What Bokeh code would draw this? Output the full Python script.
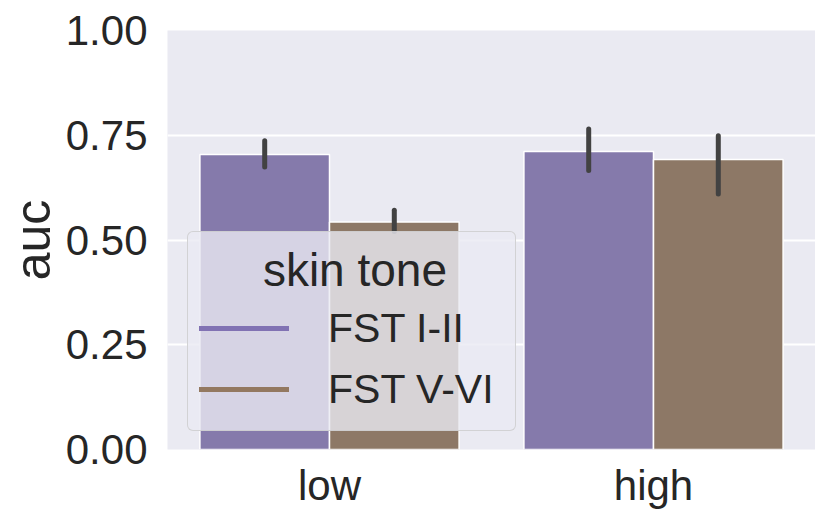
from bokeh.plotting import figure
from bokeh.models import (ColumnDataSource, FactorRange, Range1d, FixedTicker,
                          NumeralTickFormatter, Legend, LegendItem)
from bokeh.transform import dodge
from bokeh.embed import file_html
from bokeh.resources import INLINE

groups = ["low", "high"]
tones = ["FST I-II", "FST V-VI"]
auc_fst_1_2 = [0.704, 0.711]
auc_fst_5_6 = [0.543, 0.692]
ci_low_fst_1_2 = [0.674, 0.666]
ci_high_fst_1_2 = [0.737, 0.765]
ci_low_fst_5_6 = [0.520, 0.610]
ci_high_fst_5_6 = [0.571, 0.749]
y_ticks = [0.0, 0.25, 0.5, 0.75, 1.0]

bar_colors = ["#857AAB", "#8D7866"]
legend_colors = ["#8172B3", "#937860"]
FONT = "Liberation Sans"
TEXT = "#262626"

p = figure(width=815, height=516,
           x_range=FactorRange(*groups, range_padding=0),
           y_range=Range1d(0, 1),
           output_backend="svg", toolbar_location=None,
           min_border_left=167, min_border_right=0,
           min_border_top=30, min_border_bottom=67,
           background_fill_color="#EAEAF2", border_fill_color="white")
p.outline_line_color = None

series = [
    (auc_fst_1_2, ci_low_fst_1_2, ci_high_fst_1_2, -0.2),
    (auc_fst_5_6, ci_low_fst_5_6, ci_high_fst_5_6, 0.2),
]

legend_renderers = []
for i, (vals, lo, hi, off) in enumerate(series):
    src = ColumnDataSource(dict(g=groups, v=vals, lo=lo, hi=hi))
    p.vbar(x=dodge("g", off, range=p.x_range), top="v", bottom=0, width=0.4,
           source=src, fill_color=bar_colors[i], line_color="white", line_width=1.5)
    p.segment(x0=dodge("g", off, range=p.x_range), y0="lo",
              x1=dodge("g", off, range=p.x_range), y1="hi",
              source=src, line_color="#424242", line_width=5, line_cap="round")
    # legend handle only: a line whose values are missing, so nothing is drawn in the plot
    r = p.line(x=groups, y=[float("nan")] * len(groups),
               line_color=legend_colors[i], line_width=5, line_cap="round")
    legend_renderers.append(r)

p.xgrid.grid_line_color = None
p.ygrid.grid_line_color = "white"
p.ygrid.grid_line_width = 2

p.yaxis.ticker = FixedTicker(ticks=y_ticks)
p.yaxis.formatter = NumeralTickFormatter(format="0.00")
for ax in (p.xaxis[0], p.yaxis[0]):
    ax.axis_line_color = None
    ax.major_tick_line_color = None
    ax.minor_tick_line_color = None
    ax.major_tick_out = 0
    ax.major_tick_in = 0
    ax.major_label_text_font = FONT
    ax.major_label_text_font_size = "42px"
    ax.major_label_text_color = TEXT
p.yaxis.major_label_standoff = 20
p.xaxis.major_label_standoff = 12
p.yaxis.axis_label = "auc"
p.yaxis.axis_label_text_font = FONT
p.yaxis.axis_label_text_font_size = "50px"
p.yaxis.axis_label_text_font_style = "normal"
p.yaxis.axis_label_text_color = TEXT
p.yaxis.axis_label_standoff = 2

legend = Legend(
    items=[LegendItem(label=tones[k], renderers=[legend_renderers[k]]) for k in range(2)],
    location=(20, 18),
    title="\u00a0" * 5 + "skin tone",
    title_text_font=FONT, title_text_font_size="46px", title_text_font_style="normal",
    title_text_color=TEXT, title_standoff=1,
    label_text_font=FONT, label_text_font_size="41px", label_text_color=TEXT,
    glyph_width=90, glyph_height=60, label_standoff=39, label_width=176,
    spacing=1, padding=11, margin=0,
    background_fill_color="#EAEAF2", background_fill_alpha=0.8,
    border_line_color="#CCCCCC", border_line_width=1.5, border_line_alpha=0.8,
)
if "border_radius" in Legend.properties():
    legend.border_radius = 6
p.add_layout(legend)

open("out.html", "w").write(file_html(p, INLINE))
